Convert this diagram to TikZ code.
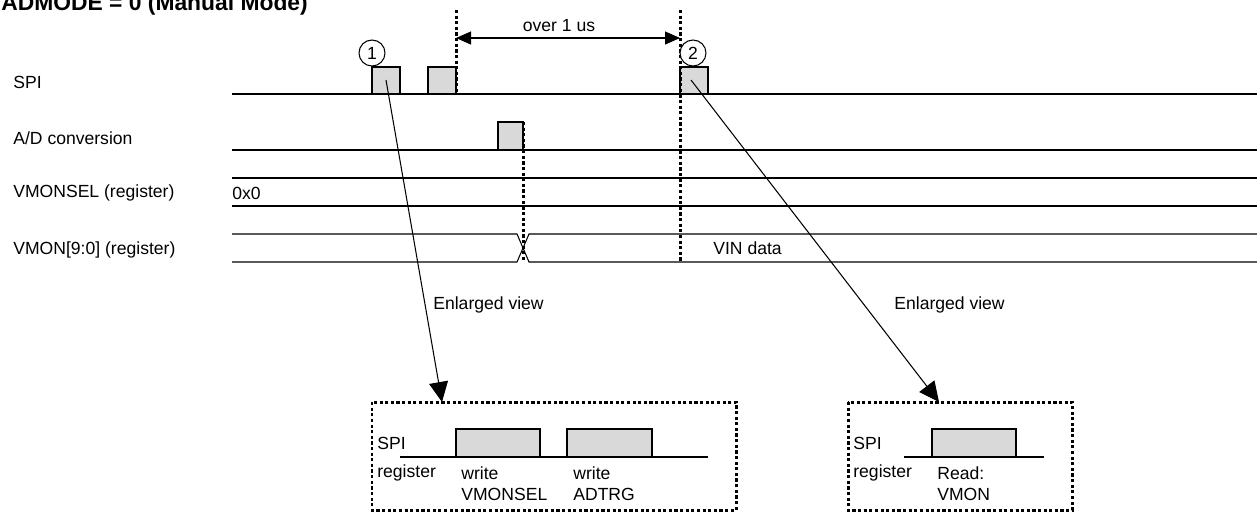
\documentclass[tikz,border=0pt]{standalone}
\usepackage{fontspec}
\setmainfont{Liberation Sans}
\usetikzlibrary{arrows.meta,positioning}
\definecolor{pulsegray}{HTML}{D9D9D9}

\begin{document}
\begin{tikzpicture}[x=0.02cm, y=-0.02cm, font=\fontsize{10}{12}\selectfont,
  sig/.style={line width=0.6pt},
  pulse/.style={draw, fill=pulsegray, line width=0.6pt},
  dots/.style={line width=1.7pt, dash pattern=on 1.8pt off 1.4pt},
  lbl/.style={anchor=west, inner sep=0pt},
  num/.style={circle, draw, fill=white, line width=0.6pt, inner sep=0pt, minimum size=0.52cm},
  zoomarrow/.style={line width=0.6pt, -{Triangle[length=0.4cm, width=0.38cm]}},
  span/.style={line width=0.6pt, {Triangle[length=0.3cm, width=0.26cm]}-{Triangle[length=0.3cm, width=0.26cm]}}]
\useasboundingbox (0,0) rectangle (1257,512);

% title, cut off at the top
\node[anchor=base west, inner sep=0pt, font=\fontsize{13}{15}\selectfont\bfseries] (title) at (1,10) {ADMODE = 0 (Manual Mode)};

% signal names
\node[lbl] (spi)  at (13,82)  {SPI};
\node[lbl] (adc)  at (13,138) {A/D conversion};
\node[lbl] (sel)  at (13,193) {VMONSEL (register)};
\node[lbl] (vmon) at (13,250) {VMON[9:0] (register)};

% signal lines
\draw[sig] (232,94) -- (1257,94);    % SPI
\draw[sig] (232,150) -- (1257,150);  % A/D conversion
\draw[sig] (232,178) -- (1257,178);  % VMONSEL bus
\draw[sig] (232,206) -- (1257,206);
\draw[sig] (232,234) -- (517,234) -- (529,262) -- (1257,262);  % VMON bus
\draw[sig] (232,262) -- (517,262) -- (529,234) -- (1257,234);

\node[lbl] (selval) at (232,193) {0x0};
\node[lbl] (vin)    at (713,248) {VIN data};

% pulses
\draw[pulse] (372,67) rectangle (400,94);
\draw[pulse] (428,67) rectangle (456,94);
\draw[pulse] (680,67) rectangle (708,94);
\draw[pulse] (498,122) rectangle (523,150);

% timing marks
\draw[dots] (456,10) -- (456,94);
\draw[dots] (680,10) -- (680,262);
\draw[dots] (523,122) -- (523,262);

\coordinate (markA) at (456,38);
\coordinate (markB) at (680,38);
\draw[span] (markA) -- (markB);
\node (gap) at (559,26) {over 1 us};

\node[num] (n1) at (372,53) {1};
\node[num] (n2) at (693,53) {2};

% enlarged views
\coordinate (srcA) at (386,80);
\coordinate (srcB) at (691,80);
\coordinate (tipA) at (442,402);
\coordinate (tipB) at (939,402);
\draw[zoomarrow] (srcA) -- (tipA);
\draw[zoomarrow] (srcB) -- (tipB);
\node[lbl] (evA) at (433,305) {Enlarged view};
\node[lbl] (evB) at (894,305) {Enlarged view};

% view 1
\draw[dots] (372,402) rectangle (736,510);
\draw[sig] (400,457) -- (708,457);
\draw[pulse] (456,429) rectangle (540,457);
\draw[pulse] (567,429) rectangle (652,457);
\node[lbl] (spiA) at (377,443) {SPI};
\node[lbl] (regA) at (377,473) {register};
\node[lbl] (wrA)  at (461,473) {write};
\node[lbl] (wrA2) at (461,494) {VMONSEL};
\node[lbl] (wrB)  at (573,473) {write};
\node[lbl] (wrB2) at (573,494) {ADTRG};

% view 2
\draw[dots] (848,402) rectangle (1072,510);
\draw[sig] (904,457) -- (1044,457);
\draw[pulse] (932,429) rectangle (1016,457);
\node[lbl] (spiB) at (853,443) {SPI};
\node[lbl] (regB) at (853,473) {register};
\node[lbl] (rdB)  at (937,473) {Read:};
\node[lbl] (rdB2) at (937,494) {VMON};
\end{tikzpicture}
\end{document}
